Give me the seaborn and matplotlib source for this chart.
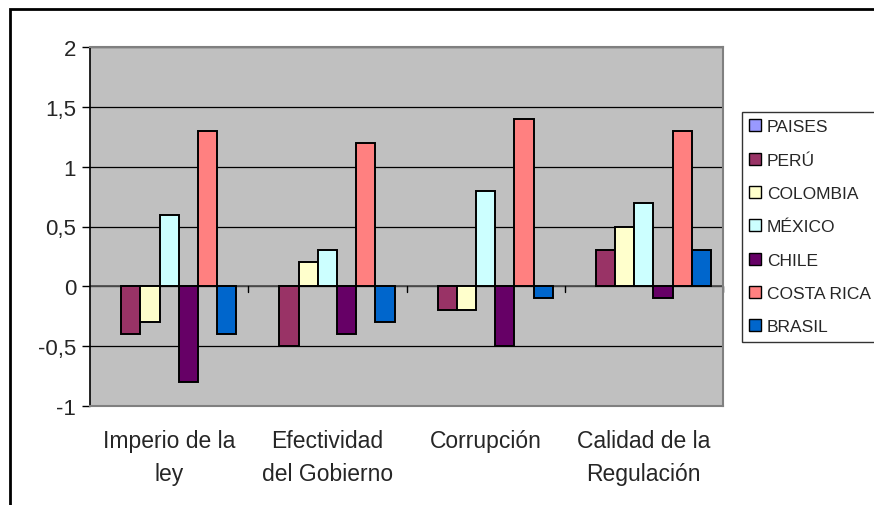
import matplotlib
matplotlib.use("Agg")
import matplotlib.pyplot as plt
import seaborn as sns
import pandas as pd
from matplotlib.patches import Patch, Rectangle

categories = ["Imperio de la\nley", "Efectividad\ndel Gobierno", "Corrupción", "Calidad de la\nRegulación"]
countries = ["PAISES", "PERÚ", "COLOMBIA", "MÉXICO", "CHILE", "COSTA RICA", "BRASIL"]
paises = [0, 0, 0, 0]
peru = [-0.4, -0.5, -0.2, 0.3]
colombia = [-0.3, 0.2, -0.2, 0.5]
mexico = [0.6, 0.3, 0.8, 0.7]
chile = [-0.8, -0.4, -0.5, -0.1]
costa_rica = [1.3, 1.2, 1.4, 1.3]
brasil = [-0.4, -0.3, -0.1, 0.3]
yticks = [-1, -0.5, 0, 0.5, 1, 1.5, 2]
ytick_labels = ["-1", "-0,5", "0", "0,5", "1", "1,5", "2"]

colors = ["#9999FF", "#993366", "#FFFFCC", "#CCFFFF", "#660066", "#FF8080", "#0066CC"]

series = [paises, peru, colombia, mexico, chile, costa_rica, brasil]
rows = []
for c, vals in zip(countries, series):
    for cat, v in zip(categories, vals):
        rows.append({"cat": cat, "country": c, "value": v})
df = pd.DataFrame(rows)

sns.set_style("white")
plt.rcParams['font.family'] = ['Liberation Sans', 'DejaVu Sans']

fig = plt.figure(figsize=(8.74, 5.06), dpi=100)
ax = fig.add_axes([90 / 874, 1 - 407 / 506, (723 - 90) / 874, (407 - 48) / 506])
ax.set_facecolor("#C0C0C0")

sns.barplot(data=df, x="cat", y="value", hue="country", hue_order=countries,
            order=categories, palette=dict(zip(countries, colors)), saturation=1,
            width=0.85, gap=0, edgecolor="black", linewidth=1.4,
            legend=False, ax=ax, zorder=3)

# zero-valued PAISES bars draw no visible outline
for p in ax.containers[0]:
    p.set_linewidth(0)

ax.set_ylim(-1, 2)
ax.set_xlim(-0.5, 3.5)
ax.set_yticks(yticks)
ax.set_yticklabels(ytick_labels, fontsize=16)
ax.yaxis.grid(True, color="black", linewidth=0.9, zorder=0)
ax.set_axisbelow(True)
ax.tick_params(axis="y", direction="out", length=6, width=1, color="black", left=True, pad=4)
ax.tick_params(axis="x", length=0, labelsize=16.5, pad=16.5)
for lab in ax.get_xticklabels():
    lab.set_linespacing(1.55)
    lab.set_verticalalignment("top")
ax.set_xlabel("")
ax.set_ylabel("")

# zero axis with tick marks between categories
ax.axhline(0, color="#505050", linewidth=1.3, zorder=2)
for xb in [0.5, 1.5, 2.5, 3.5]:
    ax.plot([xb, xb], [0, -0.045], color="black", linewidth=1, zorder=2, clip_on=False)

for side in ["top", "right", "bottom"]:
    ax.spines[side].set_color("#808080")
    ax.spines[side].set_linewidth(1.5)
ax.spines["left"].set_color("black")
ax.spines["left"].set_linewidth(1.2)

handles = [Patch(facecolor=c, edgecolor="black", linewidth=1) for c in colors]
leg = fig.legend(handles, countries, loc="upper left",
                 bbox_to_anchor=(742 / 874, 1 - 113 / 506), bbox_transform=fig.transFigure,
                 fontsize=12.5, frameon=True, fancybox=False, edgecolor="black",
                 handlelength=0.69, handleheight=0.69, handletextpad=0.33,
                 labelspacing=1.05, borderpad=0.42, borderaxespad=0)
leg.get_frame().set_linewidth(1.0)
leg.get_frame().set_facecolor("white")

# outer chart frame
fig.patches.append(Rectangle((10 / 874, -0.1), 1.2, 1 - 10 / 506 + 0.1,
                             transform=fig.transFigure, fill=False,
                             edgecolor="black", linewidth=2, zorder=0))

fig.savefig("out.png", dpi=100, facecolor="white")
